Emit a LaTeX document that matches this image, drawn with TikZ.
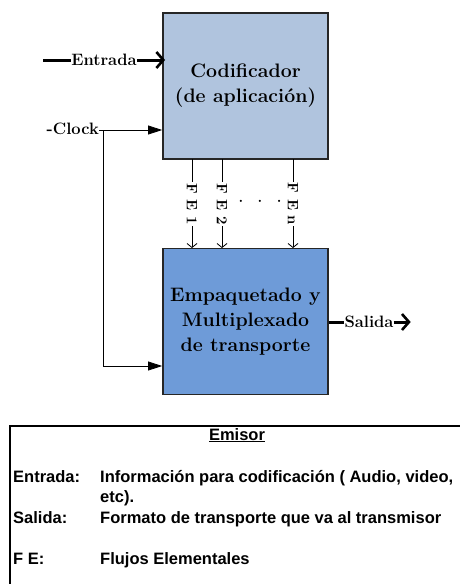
\documentclass[tikz,border=0pt]{standalone}
\usepackage{fontspec}
\newfontfamily\legfont{Liberation Sans}
\usetikzlibrary{arrows.meta,calc}
\definecolor{codfill}{HTML}{B0C4DE}
\definecolor{empfill}{HTML}{6E9BD8}
\tikzset{
  block/.style={draw=black!85, line width=1.8pt, minimum width=165pt, minimum height=146pt, inner sep=0pt, align=center, font=\bfseries\fontsize{19.5}{25}\selectfont},
  lbl/.style={inner sep=0pt, font=\bfseries\fontsize{16.5}{18}\selectfont},
  thickarrow/.style={line width=3pt, -{Straight Barb[length=7pt,width=16pt,line width=2.6pt]}},
  thickline/.style={line width=3pt},
  thinarrow/.style={line width=0.8pt, -{Triangle[length=14pt,width=9pt]}},
  fearrow/.style={line width=0.8pt, -{Straight Barb[length=4pt,width=10pt]}},
  felbl/.style={inner sep=1pt, fill=white, rotate=-90, font=\bfseries\fontsize{15}{17}\selectfont},
  leg/.style={inner sep=0pt, anchor=base west, font=\legfont\bfseries\fontsize{16.5}{20}\selectfont},
}
\begin{document}
\begin{tikzpicture}[x=1pt,y=-1pt]
\useasboundingbox (0,0) rectangle (459,584);
% blocks
\node[block, fill=codfill] (cod) at (245.5,86) {Codificador\\(de aplicación)};
\node[block, fill=empfill] (emp) at (245.5,321.5) {Empaquetado y\\Multiplexado\\de transporte};
% Entrada
\coordinate (entin) at (43,60);
\node[lbl] (ent) at (104,60) {Entrada};
\draw[thickline] (entin) -- (ent.west);
\draw[thickarrow] (ent.east) -- ([xshift=3pt]cod.west |- ent);
% Clock
\node[lbl, anchor=east] (clk) at (99,129) {-Clock};
\coordinate (clkj) at (103,130);
\coordinate (clkb) at (103,366);
\draw[thinarrow] (clk.east |- clkj) -- (cod.west |- clkj);
\draw[line width=0.8pt] (clkj) -- (clkb);
\draw[thinarrow] (clkb) -- (emp.west |- clkb);
% FE arrows
\coordinate (f1t) at (192,159); \coordinate (f1b) at (192,248);
\coordinate (f2t) at (222,159); \coordinate (f2b) at (222,248);
\coordinate (fnt) at (293,159); \coordinate (fnb) at (293,248);
\draw[fearrow] (f1t) -- (f1b);
\draw[fearrow] (f2t) -- (f2b);
\draw[fearrow] (fnt) -- (fnb);
\node[felbl] (fe1) at (192,204) {F E 1};
\node[felbl] (fe2) at (222,204) {F E 2};
\node[felbl] (fen) at (293,204) {F E n};
\node[inner sep=0pt, font=\bfseries\fontsize{15}{17}\selectfont] (dots) at (260,203) {·\hspace{6pt}·\hspace{6pt}·};
% Salida
\node[lbl] (sal) at (369,322) {Salida};
\draw[thickline] (emp.east |- sal) -- (sal.west);
\draw[thickarrow] (sal.east) -- ++(17,0) coordinate (salout);
% legend
\node[draw, line width=1.5pt, minimum width=470pt, minimum height=180pt, anchor=north west] (legbox) at (9,425) {};
\node[inner sep=0pt, anchor=base, font=\legfont\bfseries\fontsize{16.5}{20}\selectfont] (emi) at (237,440) {\underline{Emisor}};
\node[leg] (l1) at (13,482) {Entrada:};
\node[leg] (l1t) at (100,482) {Información para codificación ( Audio, video,};
\node[leg] (l1u) at (100,502.5) {etc).};
\node[leg] (l2) at (13,523) {Salida:};
\node[leg] (l2t) at (100,523) {Formato de transporte que va al transmisor};
\node[leg] (l3) at (13,564) {F E:};
\node[leg] (l3t) at (100,564) {Flujos Elementales};
\end{tikzpicture}
\end{document}
